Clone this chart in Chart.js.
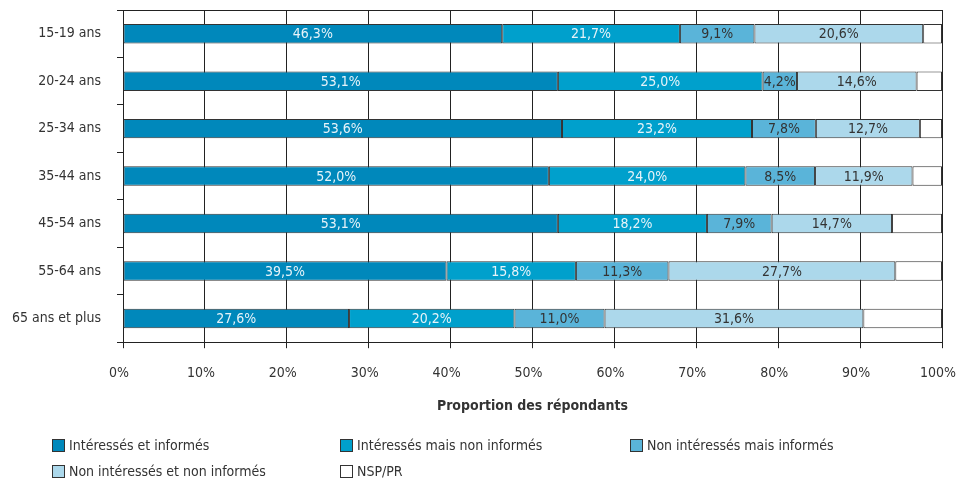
<!DOCTYPE html>
<html>
<head>
<meta charset="utf-8">
<script src="https://cdn.jsdelivr.net/npm/chart.js@4/dist/chart.umd.min.js"></script>
<style>
  html, body { margin: 0; padding: 0; background: #fff; }
  #wrap { position: relative; width: 956px; height: 481px; }
  #c { position: absolute; left: 0; top: 0; }
  .lg { position: absolute; font-family: 'DejaVu Sans Condensed', 'Liberation Sans Narrow', sans-serif; font-size: 14px; color: #333; display: flex; align-items: center; white-space: nowrap; height: 18px; }
  .lg span.box { display: inline-block; width: 13px; height: 13px; border: 1px solid #333; box-sizing: border-box; margin-right: 4px; }
</style>
</head>
<body>
<div id="wrap">
  <canvas id="c" width="956" height="481"></canvas>
  <div id="legend"></div>
</div>
<script>
const categories = ['15-19 ans', '20-24 ans', '25-34 ans', '35-44 ans', '45-54 ans', '55-64 ans', '65 ans et plus'];
const seriesNames = ['Intéressés et informés', 'Intéressés mais non informés', 'Non intéressés mais informés', 'Non intéressés et non informés', 'NSP/PR'];
const interessesInformes = [46.3, 53.1, 53.6, 52.0, 53.1, 39.5, 27.6];
const interessesNonInformes = [21.7, 25.0, 23.2, 24.0, 18.2, 15.8, 20.2];
const nonInteressesInformes = [9.1, 4.2, 7.8, 8.5, 7.9, 11.3, 11.0];
const nonInteressesNonInformes = [20.6, 14.6, 12.7, 11.9, 14.7, 27.7, 31.6];
const nspPr = [2.3, 3.1, 2.7, 3.6, 6.1, 5.7, 9.6];
const xTicks = [0, 10, 20, 30, 40, 50, 60, 70, 80, 90, 100];

const colors = ['#0088bb', '#00a0cc', '#5ab4d9', '#acd8eb', '#ffffff'];
const labelColors = ['#e6f3f9', '#e6f3f9', '#333333', '#333333', null];
const FONT = "'DejaVu Sans Condensed', 'Liberation Sans Narrow', sans-serif";
const seriesData = [interessesInformes, interessesNonInformes, nonInteressesInformes, nonInteressesNonInformes, nspPr];

const datasets = seriesData.map((d, i) => ({
  label: seriesNames[i],
  data: d,
  backgroundColor: colors[i],
  borderColor: '#333333',
  borderWidth: 1,
  borderSkipped: false,
  categoryPercentage: 1.0,
  barPercentage: 0.41
}));

const valueLabels = {
  id: 'valueLabels',
  afterDatasetsDraw(chart) {
    const ctx = chart.ctx;
    ctx.save();
    ctx.font = '14px ' + FONT;
    ctx.textAlign = 'center';
    ctx.textBaseline = 'middle';
    chart.data.datasets.forEach((ds, i) => {
      if (!labelColors[i]) return;
      const meta = chart.getDatasetMeta(i);
      meta.data.forEach((el, j) => {
        const v = ds.data[j];
        const cx = (el.x + el.base) / 2;
        ctx.fillStyle = labelColors[i];
        ctx.fillText(v.toFixed(1).replace('.', ',') + '%', cx, el.y + 1);
      });
    });
    ctx.restore();
  }
};

new Chart(document.getElementById('c'), {
  type: 'bar',
  data: { labels: categories, datasets },
  options: {
    indexAxis: 'y',
    responsive: false,
    animation: false,
    layout: { padding: { top: 10, right: 14, bottom: 68, left: 0 } },
    plugins: { legend: { display: false }, tooltip: { enabled: false } },
    scales: {
      x: {
        stacked: true,
        min: 0, max: 100,
        afterBuildTicks: (s) => { s.ticks = xTicks.map(v => ({ value: v })); },
        afterFit: (s) => { s.paddingLeft = 0; s.paddingRight = 0; },
        ticks: { callback: v => v + '%', color: '#333', font: { family: FONT, size: 14 }, padding: 17, maxRotation: 0, labelOffset: -4 },
        grid: { color: '#222', lineWidth: 1, tickLength: 6, tickColor: '#222' },
        border: { color: '#222', width: 1 },
        title: { display: true, text: 'Proportion des répondants', color: '#333', font: { family: FONT, size: 14, weight: 'bold', lineHeight: 1.0 }, padding: { top: 0, bottom: 0 } }
      },
      y: {
        stacked: true,
        afterFit: (s) => { s.width = 123; s.paddingTop = 0; s.paddingBottom = 0; },
        ticks: { color: '#333', font: { family: FONT, size: 14 }, padding: 16 },
        grid: {
          offset: true,
          drawOnChartArea: true,
          color: (c) => (c.index === 0 ? '#222' : 'rgba(0,0,0,0)'),
          tickColor: '#222',
          tickLength: 6,
          lineWidth: 1
        },
        border: { color: '#222', width: 1 }
      }
    }
  },
  plugins: [valueLabels]
});

// HTML legend
const legendPos = [[52, 445], [340, 445], [630, 445], [52, 471], [340, 471]];
const legend = document.getElementById('legend');
seriesNames.forEach((name, i) => {
  const d = document.createElement('div');
  d.className = 'lg';
  d.style.left = legendPos[i][0] + 'px';
  d.style.top = (legendPos[i][1] - 9) + 'px';
  const b = document.createElement('span');
  b.className = 'box';
  b.style.background = colors[i];
  d.appendChild(b);
  d.appendChild(document.createTextNode(name));
  legend.appendChild(d);
});
</script>
</body>
</html>
